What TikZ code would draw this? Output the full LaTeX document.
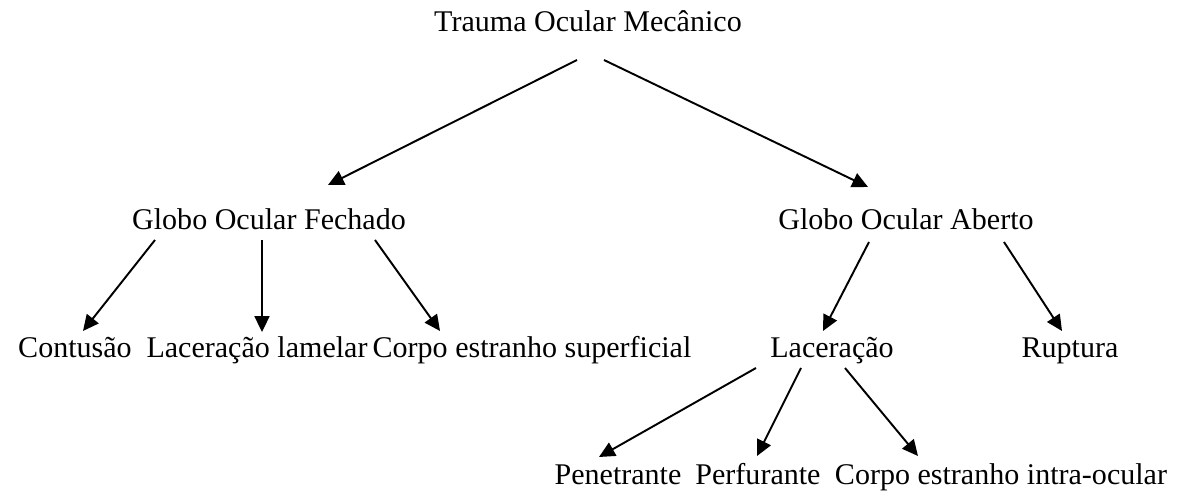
\documentclass[tikz,border=0pt]{standalone}
\usepackage{fontspec}
\setmainfont{Liberation Serif}
\usetikzlibrary{arrows.meta}
\begin{document}
\begin{tikzpicture}[x=0.02cm,y=-0.02cm,
  lbl/.style={anchor=base,inner sep=0pt,font=\fontsize{17.1}{20}\selectfont},
  arr/.style={line width=1.1pt,-{Triangle[length=9pt,width=8.5pt]}}]
\useasboundingbox (0,0) rectangle (1181,496);
% texts
\node[lbl] (tom) at (588,32) {Trauma Ocular Mecânico};
\node[lbl] (gof) at (269,230) {Globo Ocular Fechado};
\node[lbl] (goa) at (906,230) {Globo Ocular Aberto};
\node[lbl] (con) at (75,358) {Contusão};
\node[lbl] (lam) at (257,358) {Laceração lamelar};
\node[lbl] (ces) at (532,358) {Corpo estranho superficial};
\node[lbl] (lac) at (832,358) {Laceração};
\node[lbl] (rup) at (1070,358) {Ruptura};
\node[lbl] (pen) at (618,485) {Penetrante};
\node[lbl] (per) at (758,485) {Perfurante};
\node[lbl] (cei) at (1001,485) {Corpo estranho intra-ocular};
% arrow end points
\coordinate (t1) at (577,60);  \coordinate (gofin) at (328,185);
\coordinate (t2) at (604,60);  \coordinate (goain) at (868,187);
\coordinate (f1) at (155,240); \coordinate (conin) at (83,331);
\coordinate (f2) at (262,240); \coordinate (lamin) at (262,332);
\coordinate (f3) at (375,240); \coordinate (cesin) at (440,331);
\coordinate (a1) at (869,242); \coordinate (lacin) at (823,331);
\coordinate (a2) at (1004,242); \coordinate (rupin) at (1062,331);
\coordinate (l1) at (756,368); \coordinate (penin) at (599,457);
\coordinate (l2) at (801,368); \coordinate (perin) at (757,456);
\coordinate (l3) at (845,368); \coordinate (ceiin) at (918,456);
% connectors
\draw[arr] (t1) -- (gofin);
\draw[arr] (t2) -- (goain);
\draw[arr] (f1) -- (conin);
\draw[arr] (f2) -- (lamin);
\draw[arr] (f3) -- (cesin);
\draw[arr] (a1) -- (lacin);
\draw[arr] (a2) -- (rupin);
\draw[arr] (l1) -- (penin);
\draw[arr] (l2) -- (perin);
\draw[arr] (l3) -- (ceiin);
\end{tikzpicture}
\end{document}
